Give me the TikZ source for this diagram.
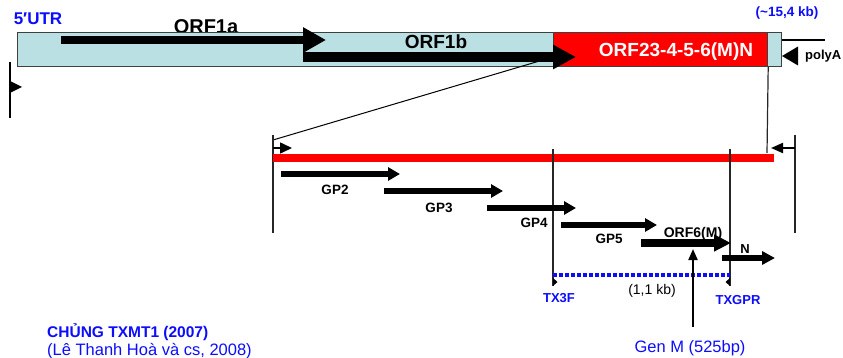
\documentclass[tikz,border=0pt]{standalone}
\usepackage{fontspec}
\setmainfont{Liberation Sans}
\usetikzlibrary{arrows.meta}
\definecolor{genomefill}{RGB}{187,224,227}
\definecolor{labelblue}{RGB}{12,12,255}
\definecolor{edgegray}{RGB}{64,64,64}
\begin{document}
\begin{tikzpicture}[x=1pt,y=-1pt,
  lab/.style={anchor=base, inner sep=0pt, font=\bfseries\fontsize{#1}{#1}\selectfont},
  labr/.style={anchor=base, inner sep=0pt, font=\fontsize{#1}{#1}\selectfont},
  genearrow/.style n args={3}{line width=#1, -{Triangle[length=#2,width=#3]}},
  guide/.style={line width=1.2pt, black!85},
  segbox/.style={draw=edgegray, line width=1.2pt, inner sep=0pt, anchor=north west}
]
\useasboundingbox (0,0) rectangle (843,358);

% ---------- genome overview ----------
\node[lab=20] (orf1alab) at (206,33.5) {ORF1a};
\node[segbox, fill=genomefill, minimum width=764pt, minimum height=34pt] (genome) at (17,32) {};
\node[segbox, fill=red, minimum width=214pt, minimum height=34pt] (sgbox) at (553,32) {};

% zoom lines into the subgenomic region
\coordinate (zoomL) at (553,57);
\coordinate (zoomLend) at (273,140);
\coordinate (zoomRend) at (767,153);
\draw[line width=1pt] (zoomL) -- (zoomLend);
\draw[guide] (sgbox.south east) -- (zoomRend);

% ORF1a / ORF1b
\coordinate (a1s) at (61,40);  \coordinate (a1e) at (326,40);
\coordinate (b1s) at (303,57); \coordinate (b1e) at (576,57);
\draw[genearrow={8pt}{23pt}{24pt}] (a1s) -- (a1e);
\draw[genearrow={10pt}{23pt}{23pt}] (b1s) -- (b1e);

\node[lab=19] (orf1blab) at (436,49) {ORF1b};
\node[lab=19, text=white] (sglab) at (676,57) {ORF23-4-5-6(M)N};
\node[lab=17, text=labelblue] (utr) at (38,25) {5′UTR};
\node[lab=13.5, text=labelblue] (size) at (787,17) {(\textasciitilde15,4 kb)};

% 3' end: polyA
\coordinate (pa1) at (782,40); \coordinate (pa2) at (825,40);
\draw[line width=2.5pt] (pa1) -- (pa2);
\fill (782,56) -- (798,46.5) -- (798,65.5) -- cycle;
\node[lab=13, anchor=base west] (polya) at (805,60) {polyA};

% 5' end marker
\coordinate (m5a) at (10,62); \coordinate (m5b) at (10,118);
\draw[line width=2pt] (m5a) -- (m5b);
\fill (10,81) -- (22,87) -- (10,93) -- cycle;

% ---------- enlarged subgenomic region ----------
\coordinate (v1a) at (273,135); \coordinate (v1b) at (273,233);
\coordinate (v2a) at (795,135); \coordinate (v2b) at (795,233);
\coordinate (p1a) at (553,149); \coordinate (p1b) at (553,286);
\coordinate (p2a) at (730,149); \coordinate (p2b) at (730,286);
\draw[guide] (v1a) -- (v1b);
\draw[guide] (v2a) -- (v2b);

\coordinate (rl1) at (273,158); \coordinate (rl2) at (774,158);
\draw[red, line width=8pt] (rl1) -- (rl2);
\draw[guide] (p1a) -- (p1b);
\draw[guide] (p2a) -- (p2b);

\coordinate (sa1) at (273,148); \coordinate (sa2) at (292,148);
\draw[line width=1.5pt, -{Triangle[length=12pt,width=11pt]}] (sa1) -- (sa2);
\coordinate (sb1) at (795,148); \coordinate (sb2) at (771,148);
\draw[line width=2pt, -{Triangle[length=12pt,width=10pt]}] (sb1) -- (sb2);

% structural genes
\node[lab=13.5] (gp2lab) at (335,195) {GP2};
\node[lab=13.5] (gp3lab) at (439,212) {GP3};
\node[lab=13.5] (gp4lab) at (534,227) {GP4};
\node[lab=13.5] (gp5lab) at (609,243) {GP5};
\node[lab=14] (orf6lab) at (693,237) {ORF6(M)};
\node[lab=13] (nlab) at (745,253) {N};

\coordinate (gp2s) at (281,174); \coordinate (gp2e) at (400,174);
\coordinate (gp3s) at (384,191); \coordinate (gp3e) at (503,191);
\coordinate (gp4s) at (487,208); \coordinate (gp4e) at (576,208);
\coordinate (gp5s) at (561,225); \coordinate (gp5e) at (657,225);
\coordinate (m6s)  at (641,243); \coordinate (m6e)  at (731,243);
\coordinate (ns)   at (722,258); \coordinate (ne)   at (775,258);
\draw[genearrow={6pt}{12pt}{13pt}] (gp2s) -- (gp2e);
\draw[genearrow={6pt}{12pt}{13pt}] (gp3s) -- (gp3e);
\draw[genearrow={6pt}{12pt}{13pt}] (gp4s) -- (gp4e);
\draw[genearrow={6pt}{12pt}{13pt}] (gp5s) -- (gp5e);
\draw[genearrow={7.5pt}{17pt}{16pt}] (m6s) -- (m6e);
\draw[genearrow={5.5pt}{13pt}{13pt}] (ns) -- (ne);

% RT-PCR amplicon and primers
\coordinate (amp1) at (553,275); \coordinate (amp2) at (730,275);
\draw[labelblue, line width=4pt, dash pattern=on 4pt off 2pt] (amp1) -- (amp2);
\fill (553,278) -- (557.5,282) -- (553,286) -- cycle;
\fill (730,278) -- (725.5,282) -- (730,286) -- cycle;
\node[lab=13, text=labelblue] (tx3f) at (559,302) {TX3F};
\node[lab=13, text=labelblue] (txgpr) at (738,304) {TXGPR};
\node[labr=14] (amplen) at (652,294) {(1,1 kb)};

% gene M target
\node[labr=16.5, text=labelblue] (genm) at (690,352) {Gen M (525bp)};
\coordinate (gm1) at (693,327); \coordinate (gm2) at (693,249);
\draw[line width=2pt, -{Triangle[length=11pt,width=9pt]}] (gm1) -- (gm2);

% strain caption
\node[lab=15.5, anchor=base west, text=labelblue] (strain) at (47,337) {CHỦNG TXMT1 (2007)};
\node[labr=16.5, anchor=base west, text=labelblue] (ref) at (47,355) {(Lê Thanh Hoà và cs, 2008)};
\end{tikzpicture}
\end{document}
